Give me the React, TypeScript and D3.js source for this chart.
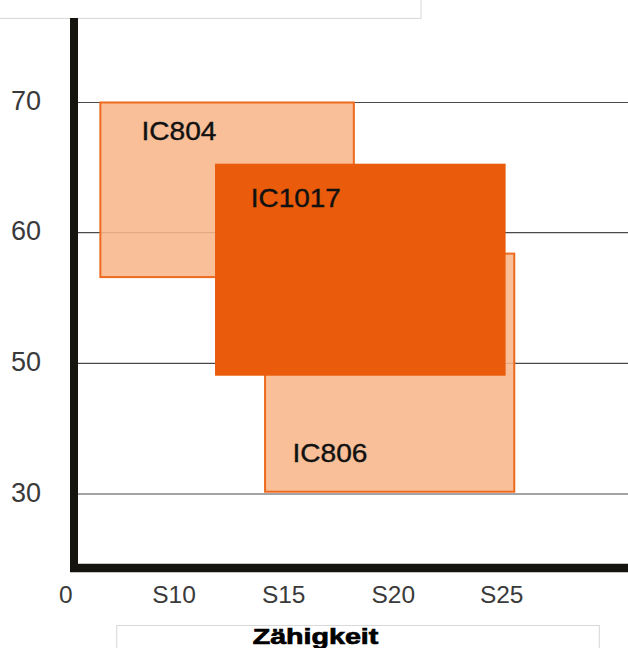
import * as d3 from "d3";

// tick positions (the chart's axes are not linear between labels)
const xTickValues = [0, 10, 15, 20, 25];
const xTickLabels = ["0", "S10", "S15", "S20", "S25"];
const yTickValues = [30, 50, 60, 70];
const yTickLabels = ["30", "50", "60", "70"];

// boxes: toughness range (x) and strength range (y)
const names = ["IC804", "IC806", "IC1017"];
const xFrom = [3.2, 14.15, 11.87];
const xTo = [18.2, 25.58, 25.18];
const yFrom = [56.6, 30.35, 48.1];
const yTo = [70, 58.4, 65.3];
const labelX = [7.0, 15.4, 13.5];
const labelY = [67.1, 34.95, 62.0];
const dark = [false, false, true];

const W = 628;
const H = 648;
const axisX = 74;
const axisY = 568;

export default function App() {
  const x = d3.scaleLinear().domain(xTickValues).range([65.7, 174, 283.7, 393.3, 501.7]);
  const y = d3.scaleLinear().domain(yTickValues).range([494, 363.3, 232.7, 102.5]);

  const boxes = names.map((n, i) => ({
    name: n,
    x0: x(xFrom[i]),
    x1: x(xTo[i]),
    y0: y(yTo[i]),
    y1: y(yFrom[i]),
    lx: x(labelX[i]),
    ly: y(labelY[i]),
    dark: dark[i],
  }));
  const light = boxes.filter((b) => !b.dark);
  const solid = boxes.filter((b) => b.dark);

  const font = "'Liberation Sans', Arial, Helvetica, sans-serif";

  return (
    <svg
      width={W}
      height={H}
      viewBox={`0 0 ${W} ${H}`}
      style={{ position: "absolute", left: 0, top: 0, background: "#fff" }}
      fontFamily={font}
    >
      {/* cropped title box */}
      <rect x={-2} y={-10} width={423} height={28.4} fill="#fff" stroke="#d8d8d8" strokeWidth={1} />

      {/* grid */}
      {yTickValues.map((v) => (
        <line key={v} x1={axisX} x2={W} y1={y(v)} y2={y(v)} stroke="#4a4a4a" strokeWidth={1.2} />
      ))}

      {/* light boxes */}
      {light.map((b) => (
        <rect
          key={b.name}
          x={b.x0}
          y={b.y0}
          width={b.x1 - b.x0}
          height={b.y1 - b.y0}
          fill="#f7b68b"
          fillOpacity={0.88}
          stroke="#ee6a1e"
          strokeWidth={2}
        />
      ))}

      {/* solid box */}
      {solid.map((b) => (
        <rect key={b.name} x={b.x0} y={b.y0} width={b.x1 - b.x0} height={b.y1 - b.y0} fill="#ea5b0c" />
      ))}

      {boxes.map((b) => (
        <text
          key={b.name + "-l"}
          x={b.lx}
          y={b.ly}
          fontSize={26.5}
          fill="#111"
          stroke="#111"
          strokeWidth={0.4}
          textLength={b.name.length * 15}
          lengthAdjust="spacingAndGlyphs"
        >
          {b.name}
        </text>
      ))}

      {/* axes */}
      <line x1={axisX} x2={axisX} y1={18} y2={axisY + 4} stroke="#15140f" strokeWidth={8} />
      <line x1={axisX - 4} x2={W} y1={axisY} y2={axisY} stroke="#15140f" strokeWidth={8.5} />

      {yTickValues.map((v, i) => (
        <text key={v} x={41} y={y(v) + 7.5} textAnchor="end" fontSize={27} fill="#3a3a3a">
          {yTickLabels[i]}
        </text>
      ))}
      {xTickValues.map((v, i) => (
        <text key={v} x={x(v)} y={603.3} textAnchor="middle" fontSize={24.5} fill="#3a3a3a">
          {xTickLabels[i]}
        </text>
      ))}

      {/* axis title box */}
      <rect x={116.7} y={625.5} width={482.6} height={40} fill="#fff" stroke="#d8d8d8" strokeWidth={1} />
      <text
        x={315.5}
        y={644.3}
        textAnchor="middle"
        fontSize={22.5}
        fontWeight="bold"
        fill="#000"
        stroke="#000"
        strokeWidth={0.7}
        textLength={125.7}
        lengthAdjust="spacingAndGlyphs"
      >
        Zähigkeit
      </text>
    </svg>
  );
}
